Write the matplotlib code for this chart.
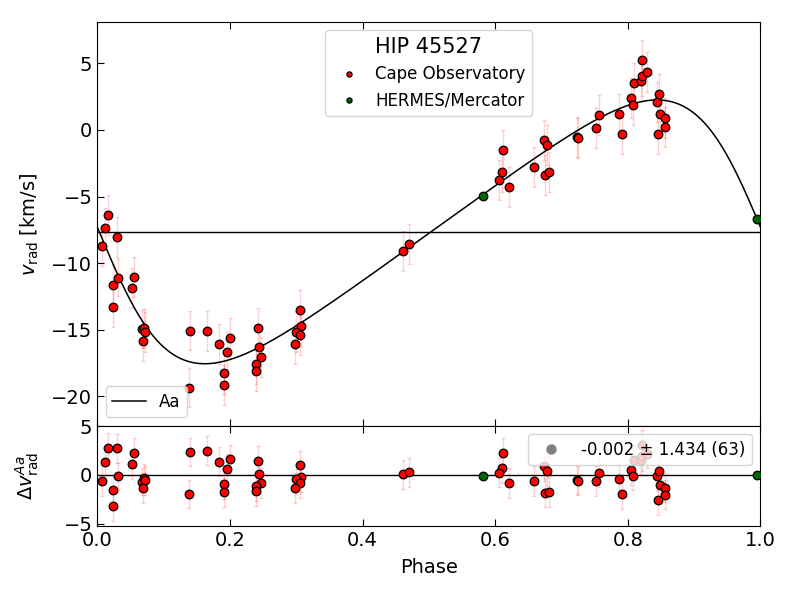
import numpy as np
import matplotlib
matplotlib.use("Agg")
import matplotlib.pyplot as plt

# orbital solution (phase folded), Aa component
gamma = -7.65
K = 9.9
ecc = 0.29
omega = np.radians(90.0)
T0 = 0.003

# Cape Observatory radial velocities
cape_phase = [0.0066, 0.0121, 0.0157, 0.0297, 0.0241, 0.0317, 0.0241, 0.0549, 0.0519, 0.0669,
              0.0709, 0.0715, 0.0694, 0.1398, 0.1383, 0.1650, 0.1840, 0.1960, 0.1996, 0.1910,
              0.1906, 0.2428, 0.2438, 0.2473, 0.2397, 0.2397, 0.3061, 0.3076, 0.2996, 0.3052,
              0.2981, 0.4605, 0.4695, 0.6117, 0.6098, 0.6057, 0.6208, 0.6585, 0.6740, 0.6776,
              0.6755, 0.6815, 0.7229, 0.7253, 0.7520, 0.7565, 0.7867, 0.7907, 0.8047, 0.8073,
              0.8093, 0.8198, 0.8218, 0.8209, 0.8284, 0.8439, 0.8470, 0.8489, 0.8565, 0.8560,
              0.8450]
cape_v = [-8.68, -7.37, -6.37, -8.00, -11.65, -11.08, -13.27, -11.02, -11.90, -14.94,
          -14.87, -15.17, -15.82, -15.07, -19.35, -15.07, -16.07, -16.67, -15.62, -18.24,
          -19.14, -14.87, -16.27, -17.07, -17.57, -18.09, -13.50, -14.70, -15.17, -15.37,
          -16.10, -9.10, -8.57, -1.48, -3.13, -3.75, -4.30, -2.77, -0.77, -1.10,
          -3.40, -3.13, -0.55, -0.60, 0.15, 1.10, 1.22, -0.32, 2.40, 1.90,
          3.52, 3.70, 4.07, 5.25, 4.37, 2.12, 2.70, 1.20, 0.90, 0.20,
          -0.32]
cape_err = [1.5, 1.5, 1.5, 1.5, 1.5, 1.4, 1.5, 1.5, 1.5, 1.4,
            1.4, 1.5, 1.5, 1.45, 1.45, 1.5, 1.5, 1.5, 1.5, 1.6,
            1.5, 1.5, 1.5, 1.5, 1.5, 1.5, 1.5, 1.5, 1.5, 1.5,
            1.5, 1.5, 1.5, 1.5, 1.5, 1.5, 1.5, 1.5, 1.5, 1.5,
            1.5, 1.5, 1.5, 1.5, 1.5, 1.5, 1.5, 1.5, 1.5, 1.5,
            1.5, 1.5, 1.5, 1.5, 1.5, 1.5, 1.5, 1.5, 1.5, 1.5,
            1.5]

# HERMES/Mercator radial velocities
herm_phase = [0.5811, 0.9943]
herm_v = [-4.97, -6.67]

resid_label = "-0.002 \u00b1 1.434 (63)"


def rv_model(phase):
    M = 2 * np.pi * (np.asarray(phase) - T0)
    E = np.array(M, dtype=float)
    for _ in range(60):
        E = E - (E - ecc * np.sin(E) - M) / (1 - ecc * np.cos(E))
    nu = 2 * np.arctan2(np.sqrt(1 + ecc) * np.sin(E / 2), np.sqrt(1 - ecc) * np.cos(E / 2))
    return gamma + K * (np.cos(nu + omega) + ecc * np.cos(omega))


cape_phase = np.array(cape_phase)
cape_v = np.array(cape_v)
herm_phase = np.array(herm_phase)
herm_v = np.array(herm_v)
cape_res = cape_v - rv_model(cape_phase)
herm_res = herm_v - rv_model(herm_phase)

fig = plt.figure(figsize=(8, 6), dpi=100)
ax = fig.add_axes([0.1216, 0.2905, 0.829, 0.6728])
axr = fig.add_axes([0.1216, 0.1238, 0.829, 0.1667])

ph = np.linspace(0, 1, 1000)
line, = ax.plot(ph, rv_model(ph), color="k", lw=1.1, label="Aa", zorder=3)
ax.axhline(gamma, color="k", lw=1, zorder=1)

ax.errorbar(cape_phase, cape_v, yerr=cape_err, fmt="none", ecolor="red", alpha=0.18,
            elinewidth=1, capsize=1.5, zorder=2)
c1, = ax.plot(cape_phase, cape_v, "o", mfc="red", mec="k", mew=0.9, ms=6.2, ls="none",
              zorder=4, label="Cape Observatory")
c2, = ax.plot(herm_phase, herm_v, "o", mfc="darkgreen", mec="k", mew=0.9, ms=6.2, ls="none",
              zorder=4, label="HERMES/Mercator")

axr.axhline(0, color="k", lw=1, zorder=1)
axr.errorbar(cape_phase, cape_res, yerr=cape_err, fmt="none", ecolor="red", alpha=0.18,
             elinewidth=1, capsize=1.5, zorder=2)
axr.plot(cape_phase, cape_res, "o", mfc="red", mec="k", mew=0.9, ms=6.2, ls="none", zorder=4)
axr.plot(herm_phase, herm_res, "o", mfc="darkgreen", mec="k", mew=0.9, ms=6.2, ls="none", zorder=4)

ax.set_xlim(0, 1)
ax.set_ylim(-22.2, 8.1)
axr.set_xlim(0, 1)
axr.set_ylim(-5.2, 5.05)
ax.set_yticks([5, 0, -5, -10, -15, -20])
axr.set_yticks([5, 0, -5])

for a in (ax, axr):
    a.tick_params(direction="in", top=True, right=False, labelsize=14, length=5)
ax.tick_params(labelbottom=False)

ax.set_ylabel(r"$v_\mathrm{rad}$ [km/s]", fontsize=14)
axr.set_ylabel(r"$\Delta v_\mathrm{rad}^{Aa}$", fontsize=14)
axr.set_xlabel("Phase", fontsize=14, labelpad=6)
ax.yaxis.set_label_coords(-0.085, 0.5)
axr.yaxis.set_label_coords(-0.085, 0.5)

leg1 = ax.legend(handles=[c1, c2], loc="upper center", title="HIP 45527", fontsize=12,
                 title_fontsize=15, markerscale=0.6, handletextpad=0.6)
ax.add_artist(leg1)
ax.legend(handles=[line], loc="lower left", fontsize=12)

grey, = axr.plot([], [], "o", color="grey", ms=6.5, label=resid_label)
axr.legend(handles=[grey], loc="upper right", fontsize=12)

fig.savefig("out.png", dpi=100)
